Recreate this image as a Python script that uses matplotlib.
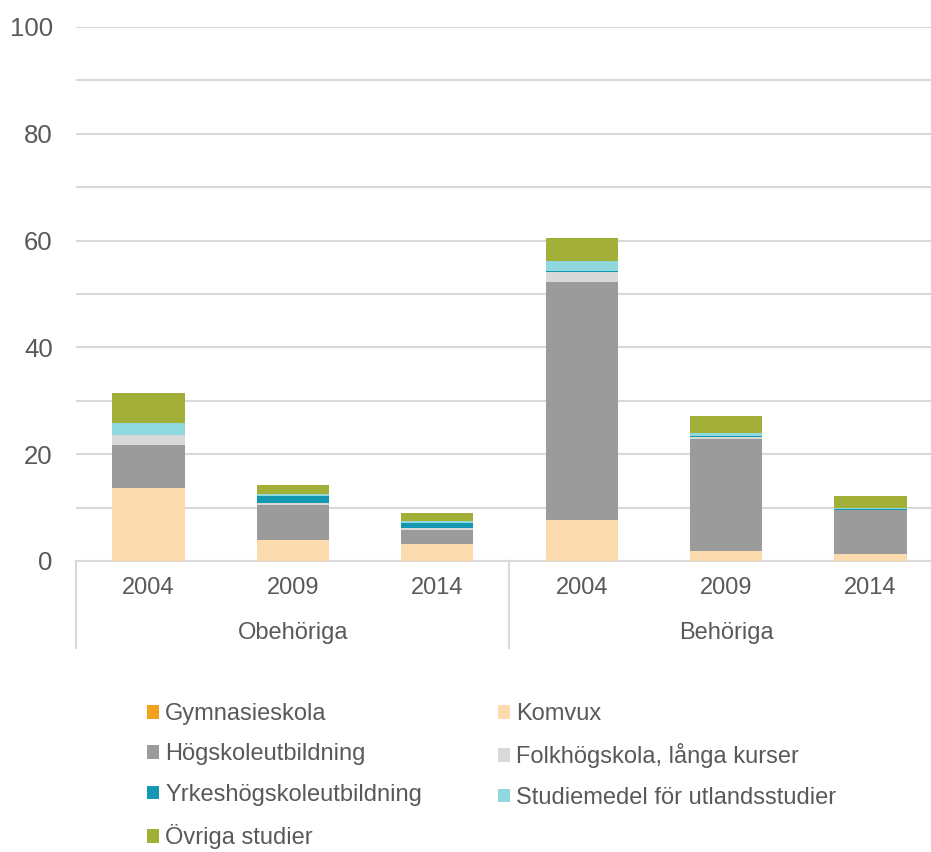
import numpy as np
import matplotlib
matplotlib.use("Agg")
import matplotlib.pyplot as plt
import matplotlib.transforms as transforms

plt.rcParams['font.family'] = ['Liberation Sans', 'DejaVu Sans']

# data
years = ["2004", "2009", "2014", "2004", "2009", "2014"]
groups = ["Obehöriga", "Behöriga"]
series_names = ["Gymnasieskola", "Komvux", "Högskoleutbildning",
                "Folkhögskola, långa kurser", "Yrkeshögskoleutbildning",
                "Studiemedel för utlandsstudier", "Övriga studier"]
gymnasieskola = [0.0, 0.0, 0.0, 0.0, 0.0, 0.0]
komvux = [13.6, 3.9, 3.2, 7.6, 1.9, 1.3]
hogskola = [8.1, 6.5, 2.6, 44.7, 21.0, 8.2]
folkhogskola = [1.9, 0.5, 0.3, 1.9, 0.4, 0.1]
yrkeshogskola = [0.0, 1.3, 1.1, 0.2, 0.2, 0.1]
studiemedel = [2.2, 0.3, 0.3, 1.8, 0.5, 0.15]
ovriga = [5.6, 1.8, 1.4, 4.3, 3.2, 2.3]

colors = ["#F4A11D", "#FBDBAE", "#9B9B9B", "#D9D9D9", "#1497B0", "#8FD8DD", "#A2B037"]
text_col = "#595959"
grid_col = "#D9D9D9"

fig = plt.figure(figsize=(9.31, 8.52), dpi=100)
ax = fig.add_axes([76.3/931, 1-561/852, 866.3/931, 534/852])

x = np.arange(len(years))
data = [gymnasieskola, komvux, hogskola, folkhogskola, yrkeshogskola, studiemedel, ovriga]
bottom = np.zeros(len(years))
bars = []
for name, vals, c in zip(series_names, data, colors):
    b = ax.bar(x, vals, width=0.5, bottom=bottom, color=c, label=name, zorder=3)
    bars.append(b)
    bottom += np.array(vals)

ax.set_xlim(-0.5, 5.5)
ax.set_ylim(0, 100)
ax.set_yticks(np.arange(0, 101, 20))
ax.set_yticks(np.arange(0, 101, 10), minor=True)
ax.grid(axis='y', which='both', color=grid_col, linewidth=1.5, zorder=0)
ax.tick_params(axis='y', which='both', length=0, pad=17, labelsize=18.5, labelcolor=text_col)
ax.set_xticks([])
for s in ['top', 'right', 'left']:
    ax.spines[s].set_visible(False)
ax.spines['bottom'].set_color(grid_col)
ax.spines['bottom'].set_linewidth(1.5)

# category labels and group separators
trans = transforms.blended_transform_factory(ax.transData, ax.transAxes)
for xi, yr in zip(x, years):
    ax.text(xi, -27/534, yr, transform=trans, ha='center', va='center',
            fontsize=17, color=text_col)
for gi, g in enumerate(groups):
    ax.text(gi*3 + 1, -72/534, g, transform=trans, ha='center', va='center',
            fontsize=17, color=text_col)
for sx in [-0.5, 2.5, 5.5]:
    ax.plot([sx, sx], [0, -87/534], transform=trans, color=grid_col,
            linewidth=1.5, clip_on=False)

# legend, two columns filled row by row like the original
order = [0, 2, 4, 6, 1, 3, 5]
fig.legend([bars[i] for i in order], [series_names[i] for i in order],
           loc='upper left', bbox_to_anchor=(147/931, 1-703/852), ncol=2,
           frameon=False, fontsize=17, handlelength=0.52, handleheight=0.52,
           handletextpad=0.25, labelspacing=0.78, columnspacing=3.2,
           borderaxespad=0, borderpad=0, labelcolor=text_col)

fig.savefig("out.png", dpi=100)
